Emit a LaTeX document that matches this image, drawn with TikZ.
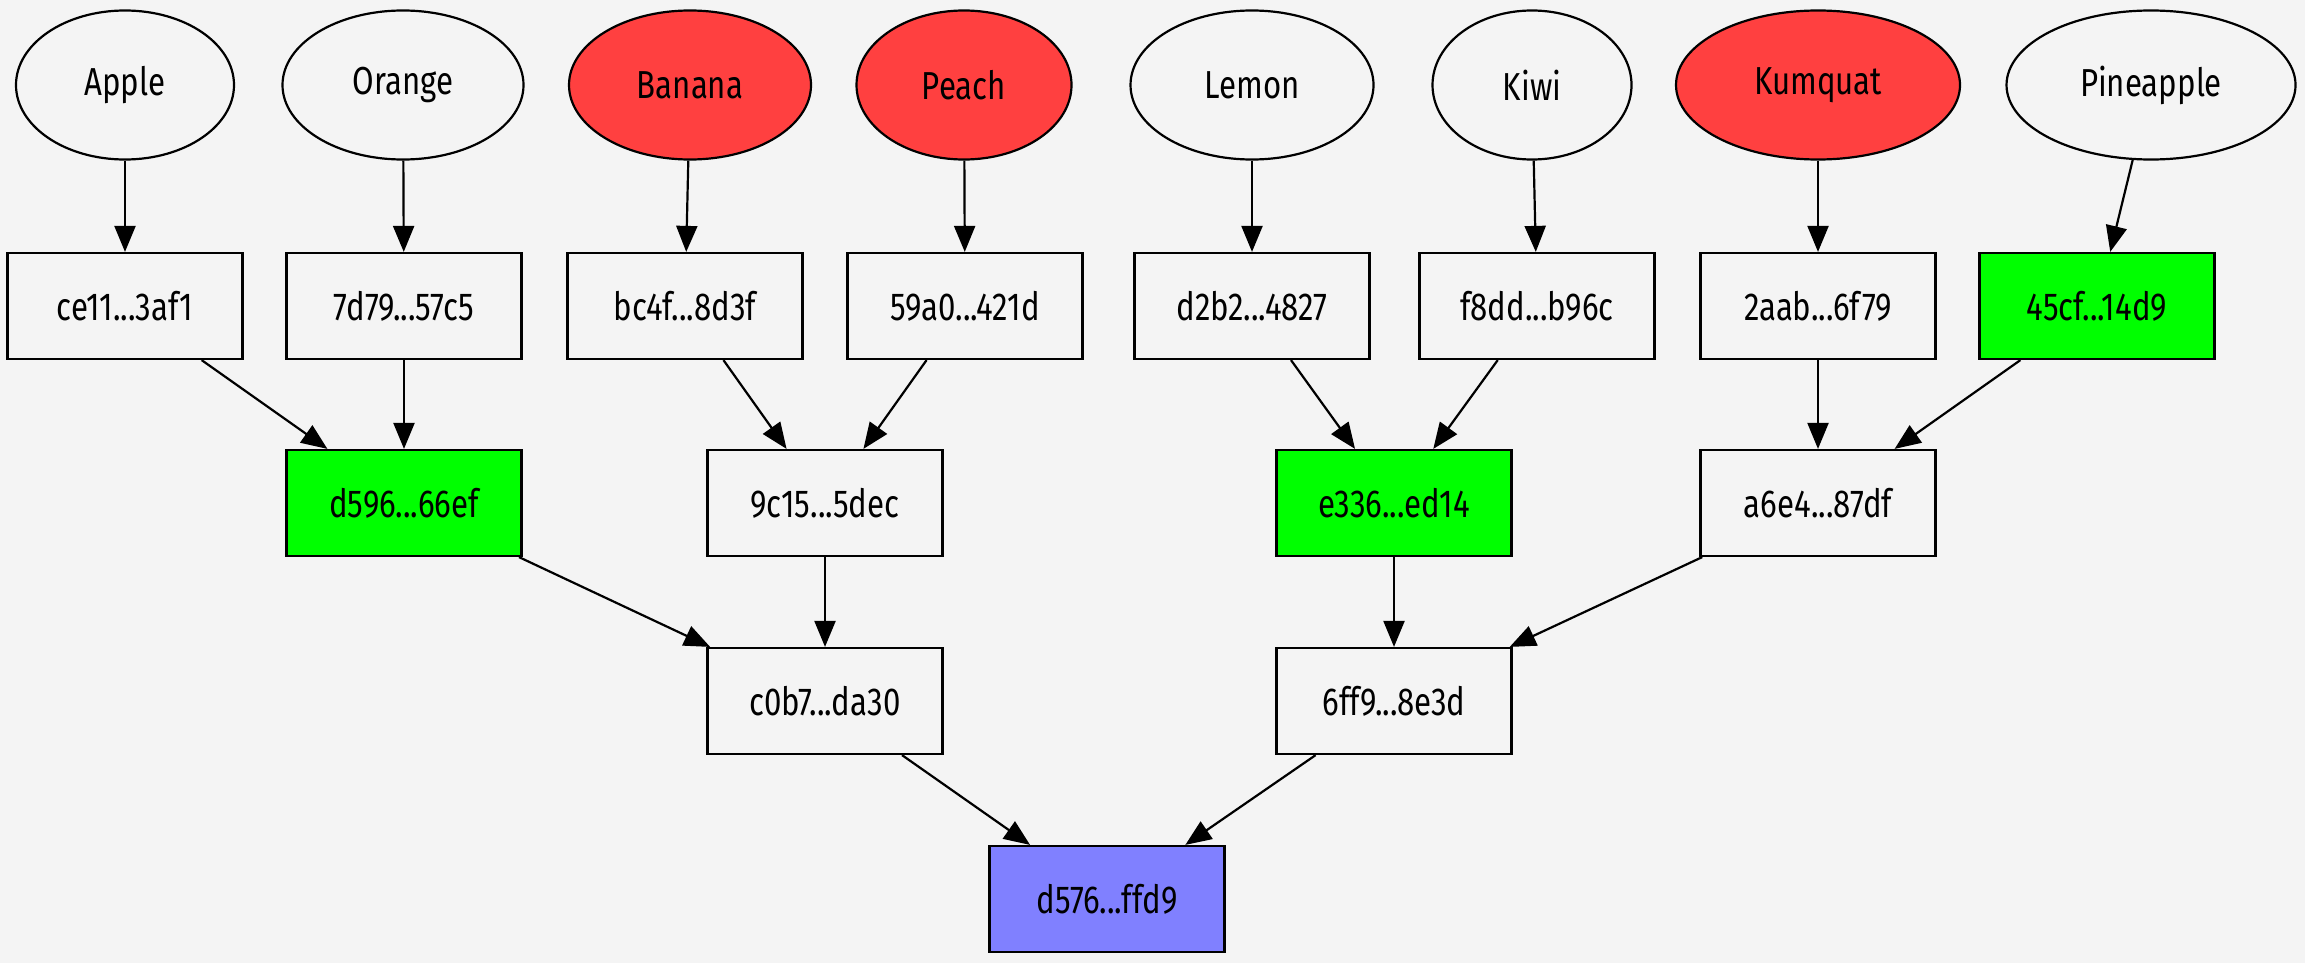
\documentclass[tikz,border=0pt]{standalone}
\usepackage{fontspec}
\setmainfont{Fira Sans}[FakeStretch=0.8]
\usetikzlibrary{arrows.meta,shapes.geometric}

\definecolor{fondo}{HTML}{F4F4F4}
\definecolor{rojo}{HTML}{FF4040}
\definecolor{verde}{HTML}{00FF00}
\definecolor{azul}{HTML}{8080FF}

\tikzset{
    fruta/.style={draw, ellipse, line width=1.1pt, inner sep=0pt, minimum height=74.5pt, fill=fondo},
    hoja/.style={draw, rectangle, line width=1.1pt, inner sep=0pt, minimum height=53pt, minimum width=117.5pt, fill=fondo},
    flecha/.style={-{Triangle[length=13pt,width=10.5pt]}, line width=1.1pt}
}

\begin{document}
\begin{tikzpicture}[x=0.5pt,y=-0.5pt,font=\fontsize{19.5}{22}\selectfont]
    % Fondo
    \fill[fondo] (0,0) rectangle (2305,963);
    \useasboundingbox (0,0) rectangle (2305,963);

    % Frutas
    \node[fruta, minimum width=109pt] (apple) at (125,85) {Apple};
    \node[fruta, minimum width=120.5pt] (orange) at (403,85) {Orange};
    \node[fruta, minimum width=121pt, fill=rojo] (banana) at (690,85) {Banana};
    \node[fruta, minimum width=107.5pt, fill=rojo] (peach) at (964,85) {Peach};
    \node[fruta, minimum width=121.5pt] (lemon) at (1252,85) {Lemon};
    \node[fruta, minimum width=99.5pt] (kiwi) at (1532,85) {Kiwi};
    \node[fruta, minimum width=142pt, fill=rojo] (kumquat) at (1818,85) {Kumquat};
    \node[fruta, minimum width=144.5pt] (pineapple) at (2151,85) {Pineapple};

    % Hojas
    \node[hoja] (ce11) at (125,306) {ce11...3af1};
    \node[hoja] (7d79) at (404,306) {7d79...57c5};
    \node[hoja] (bc4f) at (685,306) {bc4f...8d3f};
    \node[hoja] (59a0) at (965,306) {59a0...421d};
    \node[hoja] (d2b2) at (1252,306) {d2b2...4827};
    \node[hoja] (f8dd) at (1537,306) {f8dd...b96c};
    \node[hoja] (2aab) at (1818,306) {2aab...6f79};
    \node[hoja, fill=verde] (45cf) at (2097,306) {45cf...14d9};

    % Nivel intermedio
    \node[hoja, fill=verde] (d596) at (404,503) {d596...66ef};
    \node[hoja] (9c15) at (825,503) {9c15...5dec};
    \node[hoja, fill=verde] (e336) at (1394,503) {e336...ed14};
    \node[hoja] (a6e4) at (1818,503) {a6e4...87df};

    \node[hoja] (c0b7) at (825,701) {c0b7...da30};
    \node[hoja] (6ff9) at (1394,701) {6ff9...8e3d};

    % Raíz
    \node[hoja, fill=azul] (d576) at (1107,899) {d576...ffd9};

    % Aristas
    \draw[flecha] (apple) -- (ce11);
    \draw[flecha] (orange) -- (7d79);
    \draw[flecha] (banana) -- (bc4f);
    \draw[flecha] (peach) -- (59a0);
    \draw[flecha] (lemon) -- (d2b2);
    \draw[flecha] (kiwi) -- (f8dd);
    \draw[flecha] (kumquat) -- (2aab);
    \draw[flecha] (pineapple) -- (45cf);

    \draw[flecha] (ce11) -- (d596);
    \draw[flecha] (7d79) -- (d596);
    \draw[flecha] (bc4f) -- (9c15);
    \draw[flecha] (59a0) -- (9c15);
    \draw[flecha] (d2b2) -- (e336);
    \draw[flecha] (f8dd) -- (e336);
    \draw[flecha] (2aab) -- (a6e4);
    \draw[flecha] (45cf) -- (a6e4);

    \draw[flecha] (d596) -- (c0b7);
    \draw[flecha] (9c15) -- (c0b7);
    \draw[flecha] (e336) -- (6ff9);
    \draw[flecha] (a6e4) -- (6ff9);

    \draw[flecha] (c0b7) -- (d576);
    \draw[flecha] (6ff9) -- (d576);
\end{tikzpicture}
\end{document}
